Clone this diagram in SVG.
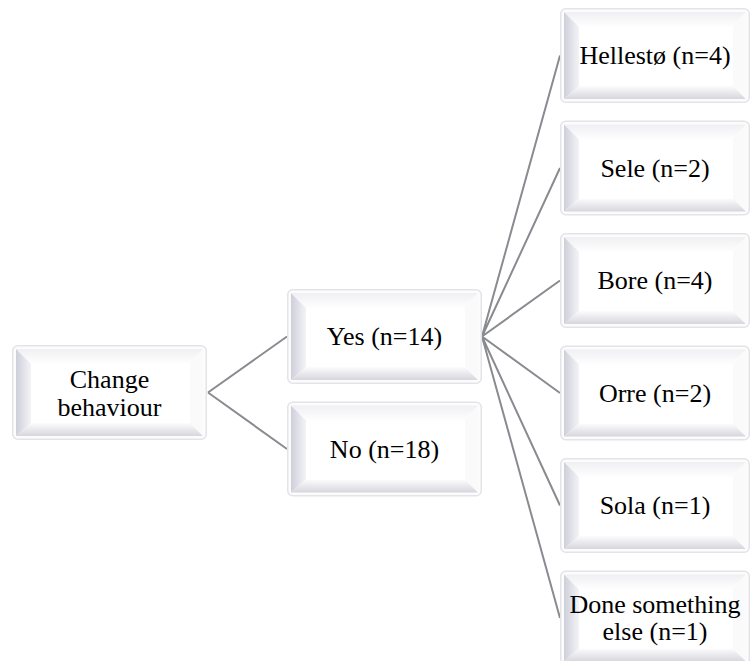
<svg xmlns="http://www.w3.org/2000/svg" xmlns:xlink="http://www.w3.org/1999/xlink" width="750" height="661" viewBox="0 0 750 661">
<style>
.conn{stroke:#8a8b91;stroke-width:2;fill:none}
.outer{fill:#fcfcfd;stroke:#e4e4e8;stroke-width:1.5}
</style>
<defs>
<linearGradient id="gTop" x1="0" y1="0" x2="0" y2="1"><stop offset="0" stop-color="#f0f0f3"/><stop offset="1" stop-color="#fefefe"/></linearGradient>
<linearGradient id="gLeft" x1="0" y1="0" x2="1" y2="0"><stop offset="0" stop-color="#cfcfdb"/><stop offset="1" stop-color="#f3f3f7"/></linearGradient>
<linearGradient id="gBot" x1="0" y1="0" x2="0" y2="1"><stop offset="0" stop-color="#fcfcfd"/><stop offset="1" stop-color="#d6d6dd"/></linearGradient>
<g id="box195">
<rect class="outer" x="0.75" y="0.75" width="193.5" height="93.5" rx="5"/>
<polygon points="4,4 191,4 176,19 19,19" fill="url(#gTop)"/>
<polygon points="4,4 19,19 19,78 4,91" fill="url(#gLeft)"/>
<polygon points="4,91 19,78 178,78 191,91" fill="url(#gBot)"/>
<polygon points="191,4 191,91 178,78 178,19" fill="#fafafb"/>
<rect x="19" y="19" width="159" height="59" fill="#fff"/>
</g>
<g id="box190">
<rect class="outer" x="0.75" y="0.75" width="188.5" height="93.5" rx="5"/>
<polygon points="4,4 186,4 171,19 19,19" fill="url(#gTop)"/>
<polygon points="4,4 19,19 19,78 4,91" fill="url(#gLeft)"/>
<polygon points="4,91 19,78 173,78 186,91" fill="url(#gBot)"/>
<polygon points="186,4 186,91 173,78 173,19" fill="#fafafb"/>
<rect x="19" y="19" width="154" height="59" fill="#fff"/>
</g>
</defs>
<rect width="750" height="661" fill="#fff"/>
<g id="connectors">
<path class="conn" d="M208,392.5 L287,336.5 M208,392.5 L287,449"/>
<path class="conn" d="M482,336.5 L560,55.5 M482,336.5 L560,168 M482,336.5 L560,280.5 M482,336.5 L560,393 M482,336.5 L560,505.5 M482,336.5 L560,618"/>
</g>
<g font-family="Liberation Serif, Times New Roman, DejaVu Serif, serif" font-size="26" fill="#000" text-anchor="middle">
<g id="change">
<use xlink:href="#box195" transform="translate(12,345)"/>
<text x="109.5" y="388">Change</text>
<text x="109.5" y="416">behaviour</text>
</g>
<g id="yes">
<use xlink:href="#box195" transform="translate(287,289)"/>
<text x="384.5" y="345">Yes (n=14)</text>
</g>
<g id="no">
<use xlink:href="#box195" transform="translate(287,401.5)"/>
<text x="384.5" y="457.5">No (n=18)</text>
</g>
<g id="hellesto">
<use xlink:href="#box190" transform="translate(560,8)"/>
<text x="655" y="64">Hellestø (n=4)</text>
</g>
<g id="sele">
<use xlink:href="#box190" transform="translate(560,120.5)"/>
<text x="655" y="176.5">Sele (n=2)</text>
</g>
<g id="bore">
<use xlink:href="#box190" transform="translate(560,233)"/>
<text x="655" y="289">Bore (n=4)</text>
</g>
<g id="orre">
<use xlink:href="#box190" transform="translate(560,345.5)"/>
<text x="655" y="401.5">Orre (n=2)</text>
</g>
<g id="sola">
<use xlink:href="#box190" transform="translate(560,458)"/>
<text x="655" y="514">Sola (n=1)</text>
</g>
<g id="done">
<use xlink:href="#box190" transform="translate(560,570.5)"/>
<text x="655" y="612.5">Done something</text>
<text x="655" y="639.5">else (n=1)</text>
</g>
</g>
</svg>
